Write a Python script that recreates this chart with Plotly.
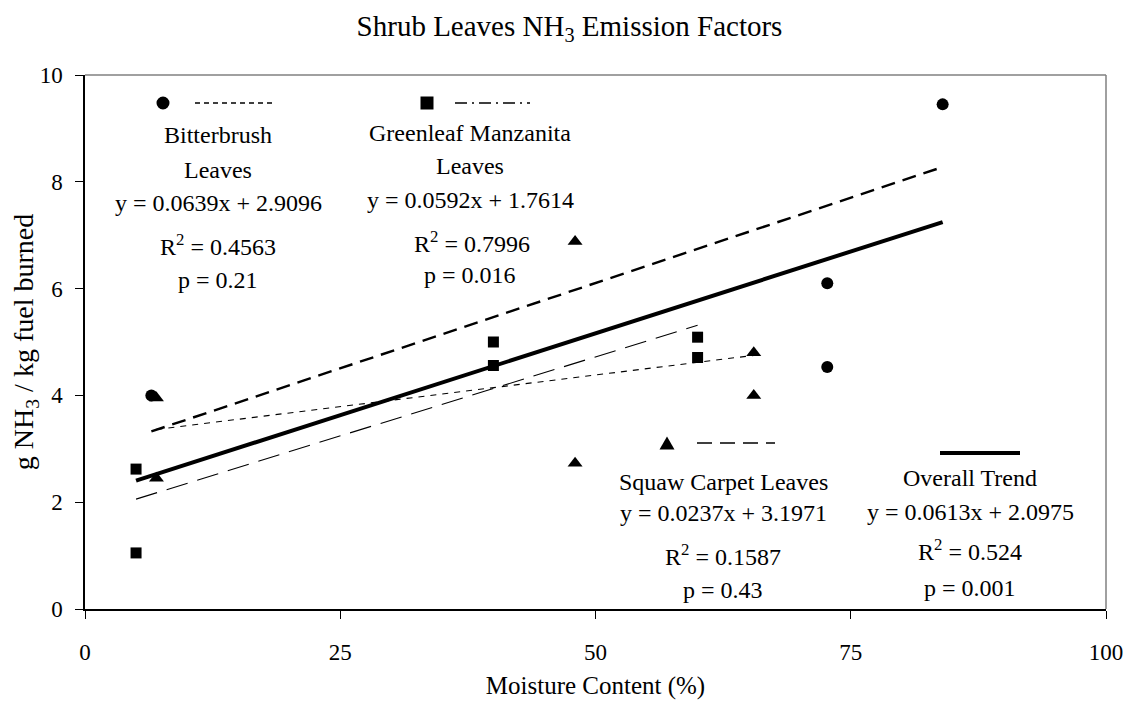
import plotly.graph_objects as go
import numpy as np

# ---------------- data ----------------
bitter_x = [6.5, 72.7, 72.7, 84.0]
bitter_y = [4.0, 6.1, 4.53, 9.45]
green_x = [5.0, 5.0, 40.0, 40.0, 60.0, 60.0]
green_y = [2.62, 1.05, 5.0, 4.56, 5.09, 4.71]
squaw_x = [7.0, 7.0, 48.0, 48.0, 65.5, 65.5]
squaw_y = [3.95, 2.45, 6.88, 2.73, 4.8, 4.0]

# regression (slope, intercept) as printed on chart
bitter_fit = (0.0639, 2.9096)
green_fit = (0.0592, 1.7614)
squaw_fit = (0.0237, 3.1971)
overall_fit = (0.0613, 2.0975)

x_ticks = [0, 25, 50, 75, 100]
y_ticks = [0, 2, 4, 6, 8, 10]

FONT = "Liberation Serif, Times New Roman, serif"
TS = 24  # annotation text size

# page body margin offset (browser default)
OFF = 8
# target plot area in screenshot pixels
L, R, T, B = 85, 1106, 75, 609
W, H = 1131 - OFF, 703 - OFF


def px(xp):
    return (xp - L) / (R - L)


def py(yp):
    return (B - yp) / (B - T)


fig = go.Figure()

# markers
fig.add_trace(go.Scatter(x=bitter_x, y=bitter_y, mode="markers",
                         marker=dict(symbol="circle", size=12, color="black"), showlegend=False))
fig.add_trace(go.Scatter(x=green_x, y=green_y, mode="markers",
                         marker=dict(symbol="square", size=11, color="black"), showlegend=False))
fig.add_trace(go.Scatter(x=squaw_x, y=squaw_y, mode="markers",
                         marker=dict(symbol="triangle-up", size=13, color="black"), showlegend=False))


def fit_line(xs, fit):
    xr = np.array([min(xs), max(xs)])
    return xr, fit[0] * xr + fit[1]


all_x = bitter_x + green_x + squaw_x

for xs, fit, dash, w in [
    (bitter_x, bitter_fit, "14px,8px", 2.4),
    (green_x, green_fit, "22px,10px", 1.1),
    (squaw_x, squaw_fit, "6px,6px", 1.1),
    (all_x, overall_fit, "solid", 4),
]:
    lx, ly = fit_line(xs, fit)
    fig.add_trace(go.Scatter(x=lx, y=ly, mode="lines",
                             line=dict(color="black", width=w, dash=dash),
                             showlegend=False, hoverinfo="skip"))

shapes = []
# frame top/right in gray
shapes.append(dict(type="line", xref="paper", yref="paper", x0=0, x1=1, y0=1, y1=1,
                   line=dict(color="#808080", width=1.5)))
shapes.append(dict(type="line", xref="paper", yref="paper", x0=1, x1=1, y0=0, y1=1,
                   line=dict(color="#808080", width=1.5)))


def leg_line(x0, x1, y, dash, w):
    shapes.append(dict(type="line", xref="paper", yref="paper",
                       x0=px(x0), x1=px(x1), y0=py(y), y1=py(y),
                       line=dict(color="black", width=w, dash=dash)))


def leg_marker(kind, x, y, s=6.5):
    base = dict(xref="paper", yref="paper", xsizemode="pixel", ysizemode="pixel",
                xanchor=px(x), yanchor=py(y), fillcolor="black", line=dict(width=0))
    if kind == "circle":
        shapes.append(dict(type="circle", x0=-s, x1=s, y0=-s, y1=s, **base))
    elif kind == "square":
        shapes.append(dict(type="rect", x0=-s, x1=s, y0=-s, y1=s, **base))
    else:
        shapes.append(dict(type="path", path=f"M {-s-1},{-s} L {s+1},{-s} L 0,{s} Z", **base))


leg_marker("circle", 163, 103)
leg_line(195, 273, 103, "5px,4px", 1.5)
leg_marker("square", 427, 103)
leg_line(455, 530, 103, "12px,5px,2px,5px", 1.5)
leg_marker("triangle", 667, 443)
leg_line(697, 775, 443, "15px,8px", 1.5)
leg_line(940, 1020, 453, "solid", 4)

annotations = []


def txt(t, x, y, size=TS):
    annotations.append(dict(text=t, x=px(x), y=py(y), xref="paper", yref="paper",
                            xanchor="center", yanchor="middle", showarrow=False,
                            font=dict(family=FONT, size=size, color="black")))


txt("Bitterbrush", 218, 135)
txt("Leaves", 218, 170)
txt("y = 0.0639x + 2.9096", 218, 203)
txt("R<sup>2</sup> = 0.4563", 218, 245)
txt("p = 0.21", 218, 280)

txt("Greenleaf Manzanita", 470, 133)
txt("Leaves", 470, 166)
txt("y = 0.0592x + 1.7614", 470, 200)
txt("R<sup>2</sup> = 0.7996", 472, 242)
txt("p = 0.016", 470, 275)

txt("Squaw Carpet Leaves", 723, 482)
txt("y = 0.0237x + 3.1971", 723, 513)
txt("R<sup>2</sup> = 0.1587", 723, 555)
txt("p = 0.43", 723, 590)

txt("Overall Trend", 970, 478)
txt("y = 0.0613x + 2.0975", 970, 512)
txt("R<sup>2</sup> = 0.524", 970, 550)
txt("p = 0.001", 970, 588)

fig.update_layout(
    width=W, height=H,
    margin=dict(l=L - OFF, r=W - (R - OFF), t=T - OFF, b=H - (B - OFF)),
    paper_bgcolor="white", plot_bgcolor="white",
    font=dict(family=FONT, size=23, color="black"),
    title=dict(text="Shrub Leaves NH<sub>3</sub> Emission Factors", x=0.5, xanchor="center",
               y=1 - (26 - OFF) / H, yanchor="middle", font=dict(family=FONT, size=29)),
    shapes=shapes, annotations=annotations,
    xaxis=dict(range=[0, 100], tickvals=x_ticks, ticktext=[str(v) for v in x_ticks],
               showgrid=False, zeroline=False, showline=True, linecolor="black", linewidth=1.5,
               ticks="outside", ticklen=8, tickcolor="black", ticklabelstandoff=14,
               tickfont=dict(size=23), automargin=False,
               title=dict(text="Moisture Content (%)", standoff=12, font=dict(size=25))),
    yaxis=dict(range=[0, 10], tickvals=y_ticks, ticktext=[str(v) for v in y_ticks],
               showgrid=False, zeroline=False, showline=True, linecolor="black", linewidth=1.5,
               ticks="outside", ticklen=8, tickcolor="black", ticklabelstandoff=8,
               tickfont=dict(size=23), automargin=False,
               title=dict(text="g NH<sub>3</sub> / kg fuel burned", standoff=8, font=dict(size=28))),
)

fig.write_html("out.html")
